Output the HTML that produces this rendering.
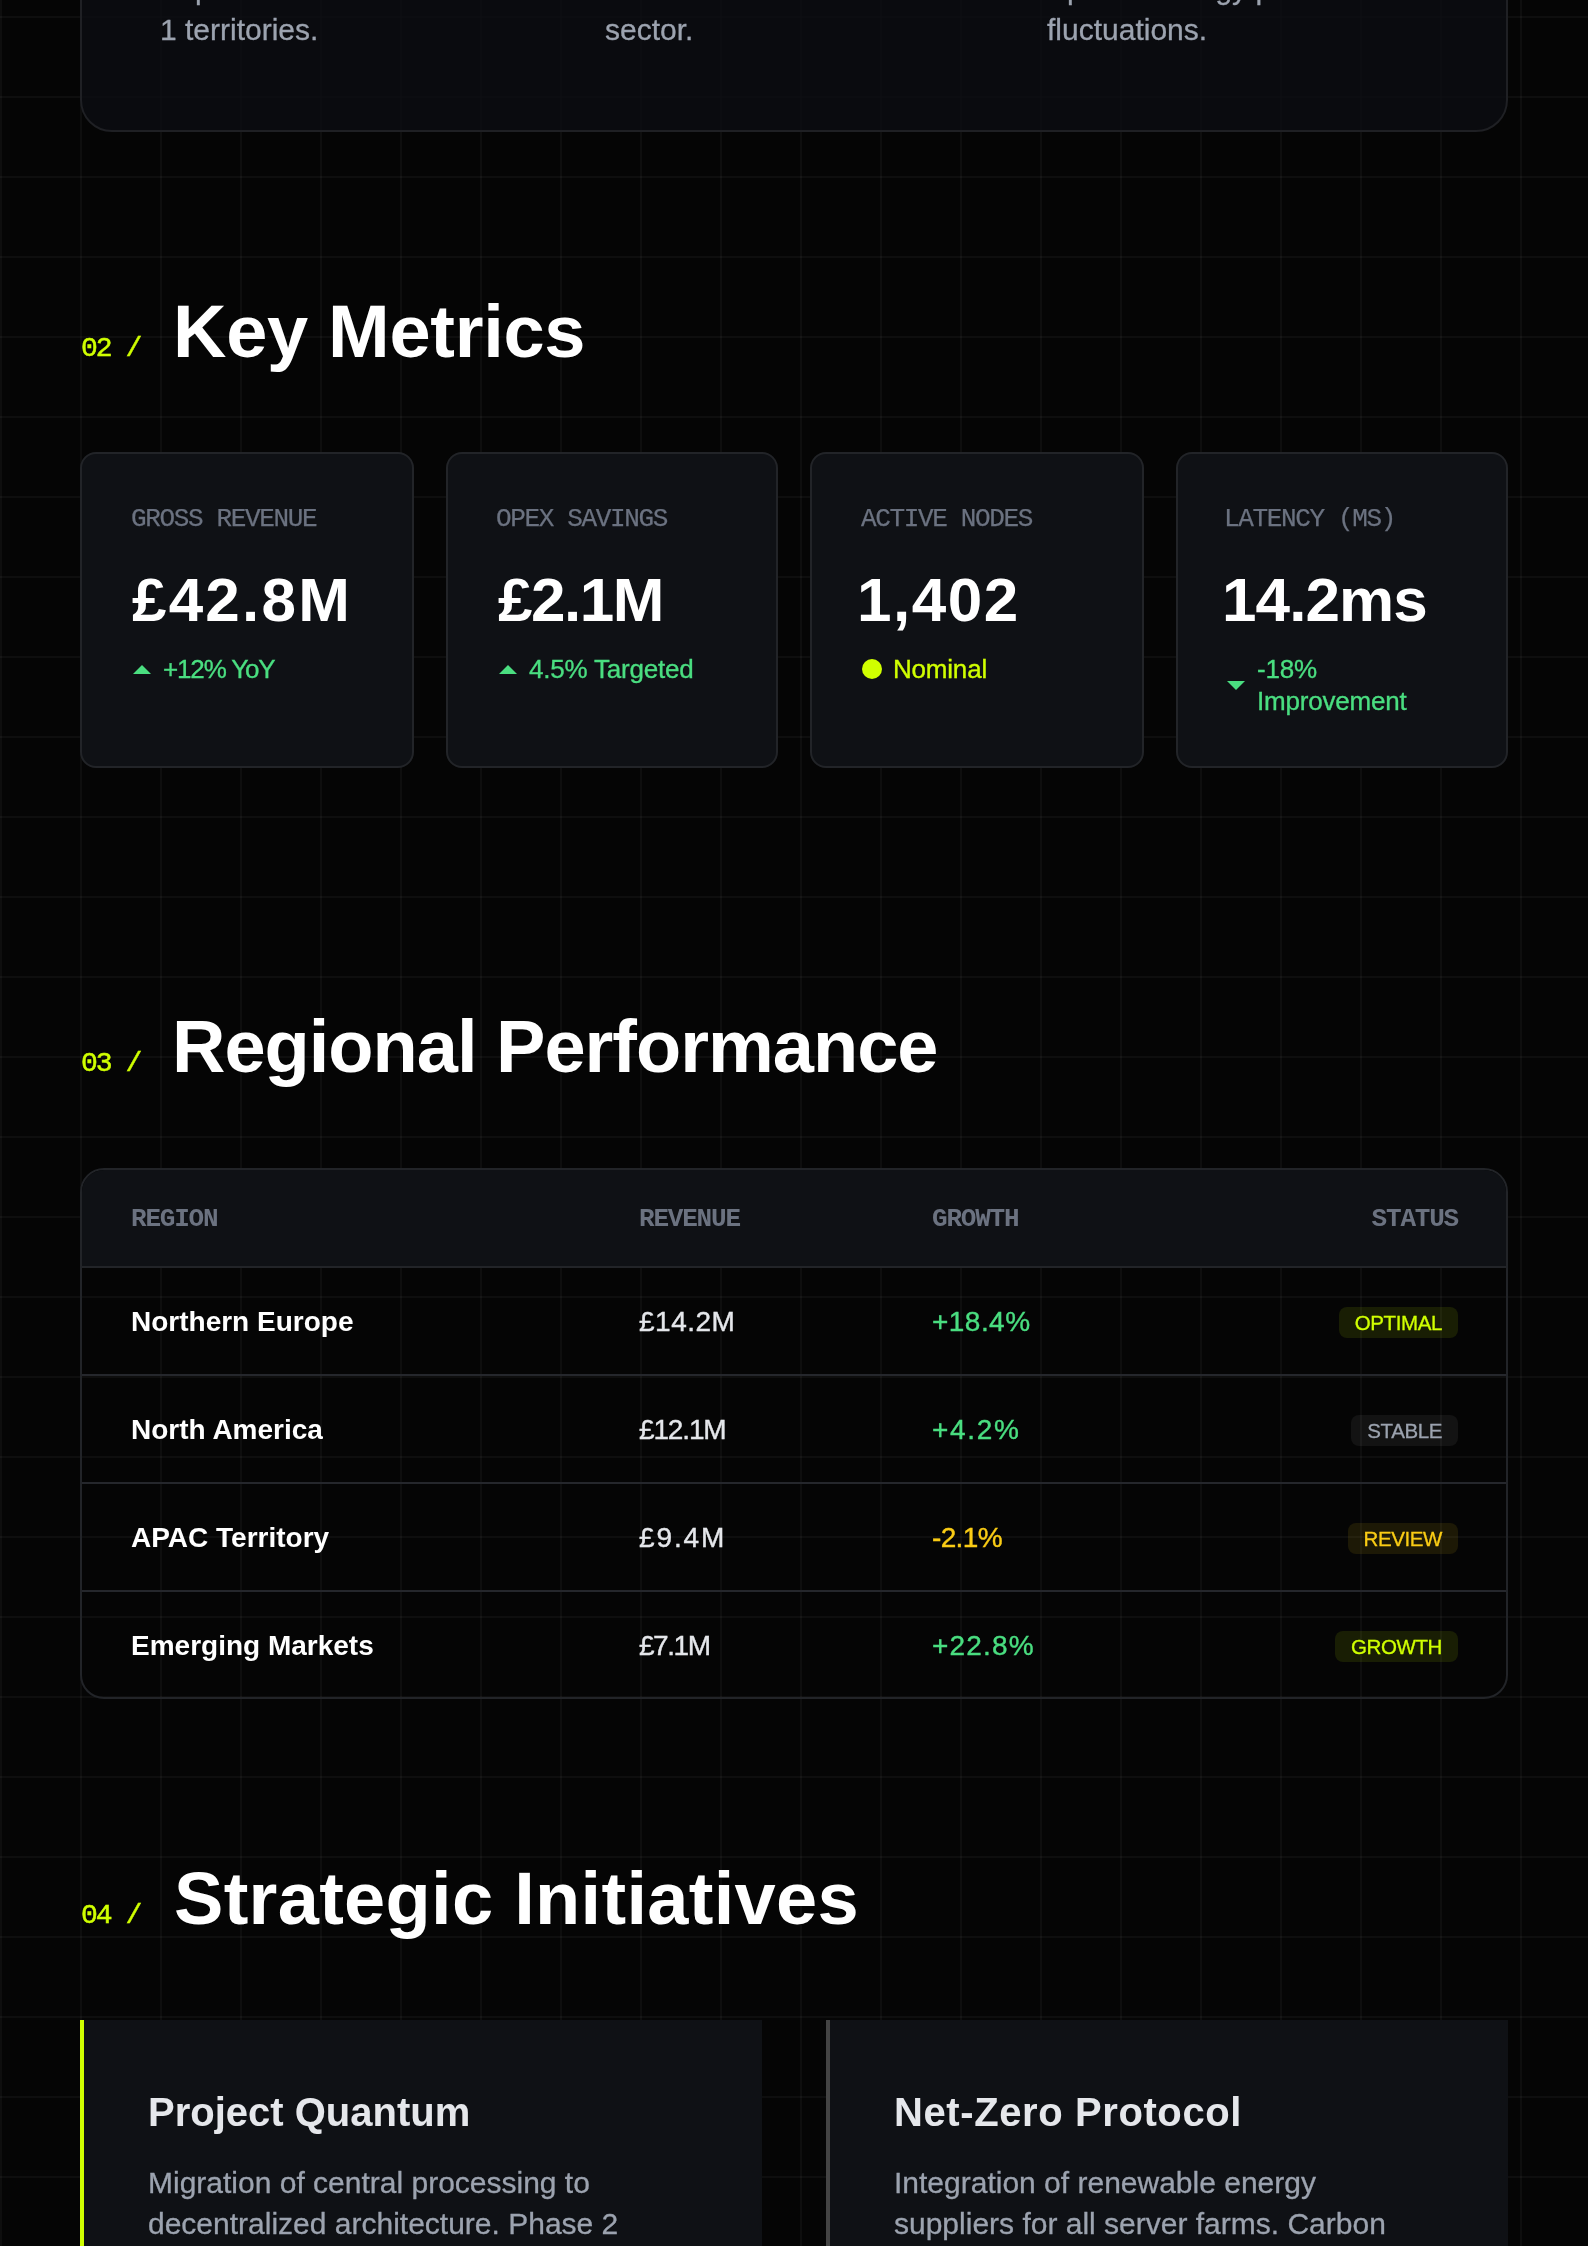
<!DOCTYPE html>
<html>
<head>
<meta charset="utf-8">
<style>
*{margin:0;padding:0;box-sizing:border-box}
html,body{width:1588px;height:2246px;overflow:hidden}
body{
  background-color:#050505;
  background-image:
    linear-gradient(to right, rgba(255,255,255,0.036) 2px, transparent 2px),
    linear-gradient(to bottom, rgba(255,255,255,0.036) 2px, transparent 2px);
  background-size:80px 80px;
  background-position:0 16px;
  font-family:"Liberation Sans",sans-serif;
  color:#fff;
  position:relative;
}
.abs{position:absolute}
.mono{font-family:"Liberation Mono",monospace;-webkit-text-stroke:0.5px currentColor}
.lime{color:#d0ff00}
.green{color:#4ade80}
.amber{color:#facc15}

/* top summary card */
.summary{left:80px;top:-300px;width:1428px;height:432px;border:2px solid #1f2024;border-radius:32px;background:rgba(12,13,18,0.85)}
.sumtext{font-size:30px;line-height:40.5px;color:#9ca3af;white-space:nowrap;-webkit-text-stroke:0.3px currentColor}

/* section headings */
.secnum{font-size:28px;line-height:32px;letter-spacing:-2px;color:#d0ff00;white-space:nowrap}
.sectitle{font-size:74px;line-height:80px;font-weight:bold;color:#fff;white-space:nowrap}

/* metric cards */
.mcard{top:452px;height:316px;width:333px;border:2px solid #222428;border-radius:16px;background:#0f1115}
.mlabel{-webkit-text-stroke:0.25px currentColor;position:absolute;left:49px;top:51.5px;font-size:26px;line-height:26px;letter-spacing:-1.35px;color:#6b7280;white-space:nowrap}
.mval{position:absolute;left:50px;top:111px;font-size:62px;line-height:70px;font-weight:bold;color:#fff;white-space:nowrap}
.mind{position:absolute;left:49px;top:199px;display:flex;align-items:center;font-size:26px;line-height:32px;letter-spacing:-0.2px;-webkit-text-stroke:0.35px currentColor}
.tri-up{width:0;height:0;border-left:9px solid transparent;border-right:9px solid transparent;border-bottom:9px solid #4ade80;margin-right:12px;margin-left:2px}
.tri-dn{width:0;height:0;border-left:9px solid transparent;border-right:9px solid transparent;border-top:9px solid #4ade80;margin-right:12px;margin-left:2px}
.dot{width:20px;height:20px;border-radius:50%;background:#d0ff00;margin-right:11px;margin-left:1px}

/* table */
.table{left:80px;top:1168px;width:1428px;height:531px;border:2px solid #222428;border-radius:24px;overflow:hidden}
.thead{position:absolute;left:0;top:0;width:100%;height:98px;background:#0f1115;border-bottom:2px solid #222428}
.th{position:absolute;top:35.5px;-webkit-text-stroke:0;font-size:26px;line-height:26px;letter-spacing:-1.2px;font-weight:bold;color:#6b7280;white-space:nowrap}
.row{position:absolute;left:0;width:100%;height:108px;border-bottom:2px solid #25272c}
.td{position:absolute;top:38px;font-size:28px;line-height:32px;white-space:nowrap;-webkit-text-stroke:0.4px currentColor}
.td.nm{-webkit-text-stroke:0}
.badge{position:absolute;right:48px;top:39px;height:31px;border-radius:8px;font-size:20.5px;line-height:31px;letter-spacing:-0.4px;padding:0 16px;-webkit-text-stroke:0.3px currentColor;white-space:nowrap}

/* initiatives */
.icard{top:2020px;height:400px;width:682px;background:#0f1115;border-left:4px solid #d0ff00}
.ititle{position:absolute;left:64px;top:68px;font-size:40px;line-height:48px;font-weight:bold;color:#e5e7eb;white-space:nowrap}
.idesc{position:absolute;left:64px;top:143px;font-size:30px;line-height:40.5px;color:#9ca3af;white-space:nowrap;-webkit-text-stroke:0.3px currentColor}
</style>
</head>
<body>
<div style="position:absolute;left:0;top:0;width:1588px;height:2246px;will-change:transform">

<!-- summary card -->
<div class="abs summary"></div>
<div class="abs sumtext" style="left:160px;top:-31px">Expansion into all new Phase<br>1 territories.</div>
<div class="abs sumtext" style="left:605px;top:-31px">Most cost-efficient in the<br>sector.</div>
<div class="abs sumtext" style="left:1047px;top:-31px">Spot vs energy price<br>fluctuations.</div>

<!-- 02 Key Metrics -->
<div class="abs secnum mono" style="left:81px;top:333px">02 /</div>
<div class="abs sectitle" style="left:173px;top:291.5px;letter-spacing:-0.3px">Key Metrics</div>

<div class="abs mcard" style="left:80px;width:334px">
  <div class="mlabel mono">GROSS REVENUE</div>
  <div class="mval" style="letter-spacing:2.2px">£42.8M</div>
  <div class="mind green"><span class="tri-up"></span><span style="letter-spacing:-1.15px">+12% YoY</span></div>
</div>
<div class="abs mcard" style="left:446px;width:332px">
  <div class="mlabel mono" style="left:48px">OPEX SAVINGS</div>
  <div class="mval" style="letter-spacing:-1.5px">£2.1M</div>
  <div class="mind green"><span class="tri-up"></span><span>4.5% Targeted</span></div>
</div>
<div class="abs mcard" style="left:810px;width:334px">
  <div class="mlabel mono">ACTIVE NODES</div>
  <div class="mval" style="letter-spacing:1.5px;left:45px">1,402</div>
  <div class="mind lime"><span class="dot"></span><span>Nominal</span></div>
</div>
<div class="abs mcard" style="left:1176px;width:332px">
  <div class="mlabel mono" style="left:46px">LATENCY (MS)</div>
  <div class="mval" style="letter-spacing:-0.9px;left:44px">14.2ms</div>
  <div class="mind green" style="top:199px;left:47px"><span class="tri-dn"></span><span>-18%<br>Improvement</span></div>
</div>

<!-- 03 Regional Performance -->
<div class="abs secnum mono" style="left:81px;top:1048px">03 /</div>
<div class="abs sectitle" style="left:172px;top:1007px;letter-spacing:-1px">Regional Performance</div>

<div class="abs table">
  <div class="thead">
    <div class="th mono" style="left:49px">REGION</div>
    <div class="th mono" style="left:557px">REVENUE</div>
    <div class="th mono" style="left:850px">GROWTH</div>
    <div class="th mono" style="right:48px">STATUS</div>
  </div>
  <div class="row" style="top:98px">
    <div class="td nm" style="left:49px;font-weight:bold;color:#fff">Northern Europe</div>
    <div class="td" style="left:557px;color:#e5e7eb;letter-spacing:0.5px">£14.2M</div>
    <div class="td green" style="left:850px;letter-spacing:0.46px">+18.4%</div>
    <div class="badge" style="background:rgba(208,255,0,0.1);color:#d0ff00">OPTIMAL</div>
  </div>
  <div class="row" style="top:206px">
    <div class="td nm" style="left:49px;font-weight:bold;color:#fff">North America</div>
    <div class="td" style="left:557px;color:#e5e7eb;letter-spacing:-1.14px">£12.1M</div>
    <div class="td green" style="left:850px;letter-spacing:1.65px">+4.2%</div>
    <div class="badge" style="background:rgba(255,255,255,0.06);color:#9ca3af">STABLE</div>
  </div>
  <div class="row" style="top:314px">
    <div class="td nm" style="left:49px;font-weight:bold;color:#fff">APAC Territory</div>
    <div class="td" style="left:557px;color:#e5e7eb;letter-spacing:1.9px">£9.4M</div>
    <div class="td amber" style="left:850px;letter-spacing:-0.65px">-2.1%</div>
    <div class="badge" style="background:rgba(250,204,21,0.1);color:#facc15">REVIEW</div>
  </div>
  <div class="row" style="top:422px;border-bottom:none">
    <div class="td nm" style="left:49px;font-weight:bold;color:#fff">Emerging Markets</div>
    <div class="td" style="left:557px;color:#e5e7eb;letter-spacing:-1.45px">£7.1M</div>
    <div class="td green" style="left:850px;letter-spacing:1.18px">+22.8%</div>
    <div class="badge" style="background:rgba(208,255,0,0.1);color:#d0ff00">GROWTH</div>
  </div>
</div>

<!-- 04 Strategic Initiatives -->
<div class="abs secnum mono" style="left:81px;top:1900px">04 /</div>
<div class="abs sectitle" style="left:174px;top:1859px;letter-spacing:0.3px">Strategic Initiatives</div>

<div class="abs icard" style="left:80px">
  <div class="ititle">Project Quantum</div>
  <div class="idesc">Migration of central processing to<br>decentralized architecture. Phase 2</div>
</div>
<div class="abs icard" style="left:826px;border-left-color:#444">
  <div class="ititle" style="letter-spacing:0.6px">Net-Zero Protocol</div>
  <div class="idesc">Integration of renewable energy<br>suppliers for all server farms. Carbon</div>
</div>

</div>
</body>
</html>
